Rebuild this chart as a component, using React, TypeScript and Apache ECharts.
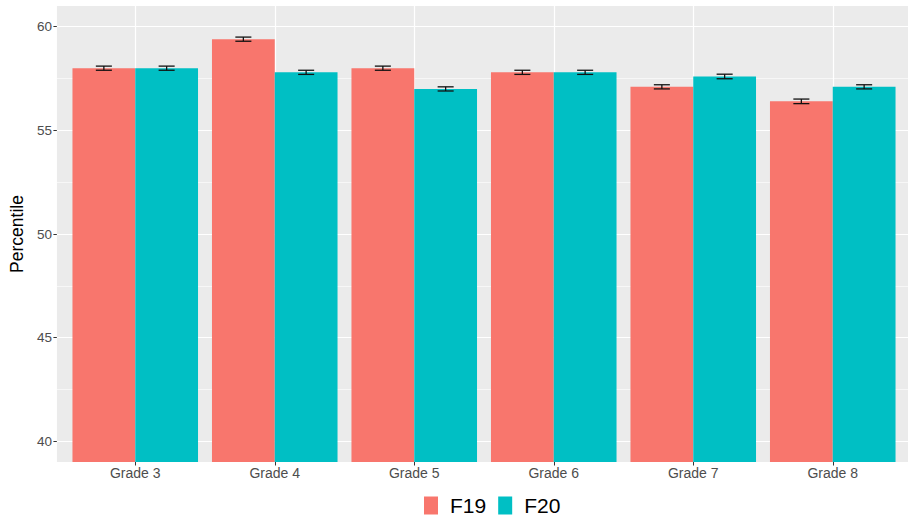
import React, { useEffect, useRef } from "react";
import * as echarts from "echarts";

const categories = ["Grade 3", "Grade 4", "Grade 5", "Grade 6", "Grade 7", "Grade 8"];
const seriesNames = ["F19", "F20"];
const f19Values = [58.0, 59.4, 58.0, 57.8, 57.1, 56.4];
const f20Values = [58.0, 57.8, 57.0, 57.8, 57.6, 57.1];
const f19Errors = [0.1, 0.1, 0.1, 0.1, 0.1, 0.11];
const f20Errors = [0.1, 0.1, 0.1, 0.1, 0.11, 0.1];
const yMajorTicks = [40, 45, 50, 55, 60];
const yMinorTicks = [42.5, 47.5, 52.5, 57.5];
const yMin = 39;
const yMax = 61;

const FONT = "'Liberation Sans', Arial, Helvetica, sans-serif";
const COLORS = ["#F8766D", "#00BFC4"];

function errorSeries(values: number[], errors: number[], offset: number) {
  return {
    type: "custom",
    xAxisIndex: 1,
    yAxisIndex: 1,
    z: 5,
    silent: true,
    data: values.map((v, i) => [i, v - errors[i], v + errors[i]]),
    renderItem: (params: any, api: any) => {
      const idx = api.value(0);
      const lo = api.coord([idx, api.value(1)]);
      const hi = api.coord([idx, api.value(2)]);
      const band = api.size([1, 0])[0];
      const x = lo[0] + offset * band;
      const half = (0.115 * band) / 2;
      const style = { stroke: "#111111", lineWidth: 1.3 };
      return {
        type: "group",
        children: [
          { type: "line", shape: { x1: x, y1: lo[1], x2: x, y2: hi[1] }, style },
          { type: "line", shape: { x1: x - half, y1: lo[1], x2: x + half, y2: lo[1] }, style },
          { type: "line", shape: { x1: x - half, y1: hi[1], x2: x + half, y2: hi[1] }, style },
        ],
      };
    },
  };
}

export default function App() {
  const ref = useRef<HTMLDivElement>(null);
  useEffect(() => {
    if (!ref.current) return;
    const chart = echarts.init(ref.current, null, { renderer: "svg" });
    const option: any = {
      animation: false,
      backgroundColor: "#FFFFFF",
      textStyle: { fontFamily: FONT },
      grid: [
        { left: 52, top: 6, width: 865, height: 456, show: true, backgroundColor: "#EBEBEB", borderWidth: 0 },
        { left: 65.5, top: 6, width: 837, height: 456, show: false },
      ],
      legend: {
        data: seriesNames,
        left: 424,
        top: 495,
        padding: 0,
        icon: "rect",
        itemWidth: 14,
        itemHeight: 18,
        itemGap: 12,
        textStyle: { fontSize: 21, color: "#000000", fontFamily: FONT, padding: [0, 0, 0, 7] },
      },
      xAxis: [
        { type: "value", gridIndex: 0, min: 0, max: 1, show: false },
        {
          type: "category",
          gridIndex: 1,
          data: categories,
          boundaryGap: true,
          axisLine: { show: false },
          axisTick: { show: true, alignWithLabel: true, length: 3.5, lineStyle: { color: "#333333", width: 1 } },
          axisLabel: { fontSize: 14, color: "#4D4D4D", margin: 4, fontFamily: FONT },
          splitLine: { show: true, alignWithLabel: true, lineStyle: { color: "#FFFFFF", width: 1.2 } },
        },
      ],
      yAxis: [
        {
          type: "value",
          gridIndex: 0,
          min: yMin,
          max: yMax,
          name: "Percentile",
          nameLocation: "middle",
          nameRotate: 90,
          nameGap: 26,
          nameTextStyle: { fontSize: 17.5, color: "#000000", fontFamily: FONT },
          axisLine: { show: false },
          axisTick: {
            show: true,
            length: 3.5,
            customValues: yMajorTicks,
            lineStyle: { color: "#333333", width: 1 },
          },
          axisLabel: {
            fontSize: 13.5,
            color: "#4D4D4D",
            margin: 5,
            fontFamily: FONT,
            customValues: yMajorTicks,
          },
          splitLine: { show: false },
        },
        { type: "value", gridIndex: 1, min: yMin, max: yMax, show: false },
      ],
      series: [
        {
          type: "line",
          xAxisIndex: 0,
          yAxisIndex: 0,
          data: [[0.5, 50]],
          showSymbol: false,
          symbol: "none",
          lineStyle: { opacity: 0 },
          silent: true,
          markLine: {
            silent: true,
            symbol: ["none", "none"],
            z: 1,
            label: { show: false },
            data: [
              ...yMinorTicks.map((v) => ({ yAxis: v, lineStyle: { color: "#FFFFFF", width: 0.6, type: "solid" } })),
              ...yMajorTicks.map((v) => ({ yAxis: v, lineStyle: { color: "#FFFFFF", width: 1.2, type: "solid" } })),
            ],
          },
        },
        {
          name: seriesNames[0],
          type: "bar",
          xAxisIndex: 1,
          yAxisIndex: 1,
          data: f19Values,
          barWidth: "45%",
          barGap: "0%",
          itemStyle: { color: COLORS[0] },
          z: 2,
        },
        {
          name: seriesNames[1],
          type: "bar",
          xAxisIndex: 1,
          yAxisIndex: 1,
          data: f20Values,
          barWidth: "45%",
          barGap: "0%",
          itemStyle: { color: COLORS[1] },
          z: 2,
        },
        errorSeries(f19Values, f19Errors, -0.225),
        errorSeries(f20Values, f20Errors, 0.225),
      ],
    };
    chart.setOption(option);
    return () => chart.dispose();
  }, []);
  return <div ref={ref} style={{ width: 908, height: 517, position: "absolute", left: 0, top: 0 }} />;
}
